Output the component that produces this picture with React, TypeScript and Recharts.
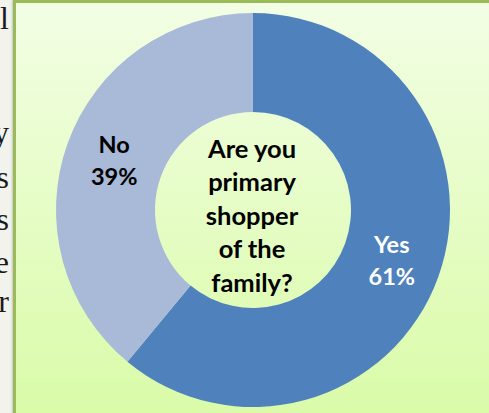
import React from 'react';
import { Pie, PieChart } from 'recharts';

const answers = ['Yes', 'No'];
const shares = [61, 39];
const sliceColors = ['#4f81bd', '#a9bad8'];
const labelColors = ['#ffffff', '#000000'];
const questionLines = ['Are you', 'primary', 'shopper', 'of the', 'family?'];

// stray letters of the surrounding document, cut off at the left edge
const pageLetters = ['l', 'y', 's', 's', 'e', 'r'];
const pageBaselines = [29, 143, 188, 230, 273, 312];

const data = answers.map((name, i) => ({ name, value: shares[i], fill: sliceColors[i] }));

const FONT = 'Lato, "Open Sans", sans-serif';
const RAD = Math.PI / 180;
const CX = 253;
const CY = 210;

const renderSliceLabel = (props: any) => {
  const { cx, cy, midAngle, innerRadius, outerRadius, index, name, percent } = props;
  const r = (innerRadius + outerRadius) / 2;
  const x = cx + r * Math.cos(-midAngle * RAD);
  const y = cy + r * Math.sin(-midAngle * RAD);
  return (
    <text
      x={x}
      y={y}
      textAnchor="middle"
      fill={labelColors[index]}
      fontFamily={FONT}
      fontWeight={700}
      fontSize={23.5}
    >
      <tspan x={x} dy={-7}>{name}</tspan>
      <tspan x={x} dy={32}>{`${Math.round(percent * 100)}%`}</tspan>
    </text>
  );
};

export default function App() {
  return (
    <div
      style={{
        position: 'absolute',
        left: 0,
        top: 0,
        width: 489,
        height: 413,
        overflow: 'hidden',
        background: '#f3f3ee',
      }}
    >
      <svg width={13} height={413} style={{ position: 'absolute', left: 0, top: 0 }}>
        {pageLetters.map((ch, i) => (
          <text
            key={i}
            x={9}
            y={pageBaselines[i]}
            textAnchor="end"
            fontFamily='"Liberation Serif", serif'
            fontSize={32}
            fill="#1a1a1a"
          >
            {ch}
          </text>
        ))}
      </svg>
      <div
        style={{
          position: 'absolute',
          left: 13,
          top: 0,
          width: 520,
          height: 440,
          border: '3px solid #9bbb59',
          background: 'linear-gradient(#f2fee4, #d8fba4)',
          boxShadow: '-1px 0 2px rgba(0,0,0,0.2)',
        }}
      />
      <div style={{ position: 'absolute', left: 0, top: 0 }}>
        <PieChart width={489} height={413} margin={{ top: 0, right: 0, bottom: 0, left: 0 }}>
          <Pie
            data={data}
            dataKey="value"
            nameKey="name"
            cx={CX}
            cy={CY}
            innerRadius={98}
            outerRadius={197}
            startAngle={90}
            endAngle={-270}
            stroke="none"
            label={renderSliceLabel}
            labelLine={false}
            isAnimationActive={false}
          />
        </PieChart>
        <svg
          width={489}
          height={413}
          style={{ position: 'absolute', left: 0, top: 0, pointerEvents: 'none' }}
        >
          <text textAnchor="middle" fill="#000" fontFamily={FONT} fontWeight={700} fontSize={25.5}>
            {questionLines.map((line, i) => (
              <tspan key={line} x={CX - 1} y={CY - 52 + i * 33.4}>
                {line}
              </tspan>
            ))}
          </text>
        </svg>
      </div>
    </div>
  );
}
